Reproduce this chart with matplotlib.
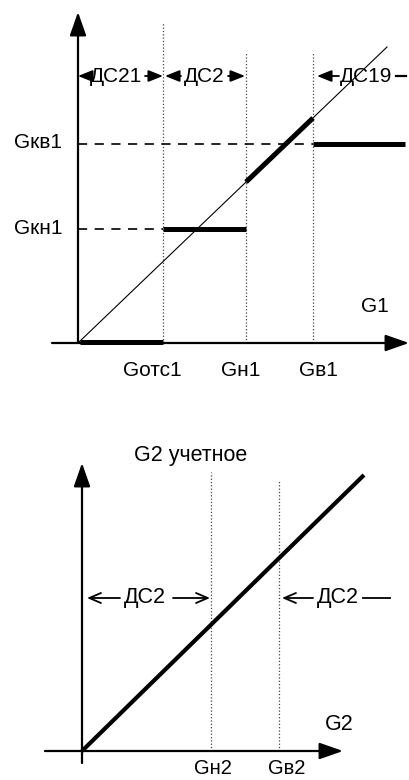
import matplotlib
matplotlib.use("Agg")
import matplotlib.pyplot as plt

plt.rcParams['font.family'] = ['Liberation Sans', 'DejaVu Sans']

# ---------------- data (top chart, G1) ----------------
g1_ticks = [85, 168, 235]                 # Gотс1, Gн1, Gв1
g1_tick_labels = ["Gотс1", "Gн1", "Gв1"]
g1_levels = [114, 199]                    # Gкн1, Gкв1
g1_level_labels = ["Gкн1", "Gкв1"]
g1_vline_tops = [320, 290, 290]
g1_diag_x = [0, 309]
g1_diag_y = [0, 296]
# thick response segments (x pairs, y pairs)
g1_seg_x = [[2, 85], [85, 168], [168, 235], [235, 327]]
g1_seg_y = [[1, 1], [114, 114], [161, 225], [199, 199]]
g1_zones = ["ДС21", "ДС2", "ДС19"]

# ---------------- data (bottom chart, G2) ----------------
g2_ticks = [129, 197]                     # Gн2, Gв2
g2_tick_labels = ["Gн2", "Gв2"]
g2_vline_tops = [279, 271]
g2_line_x = [0, 282]
g2_line_y = [0, 276]
g2_zones = ["ДС2", "ДС2"]

W, H = 409, 780
fig = plt.figure(figsize=(W / 100, H / 100), dpi=100)
fig.patch.set_facecolor('white')

# ================= TOP CHART =================
ax = fig.add_axes([0, 0.5, 1, 0.5])
ax.set_xlim(-78, 331)
ax.set_ylim(-47, 343)
ax.axis('off')

axis_arrow = dict(arrowstyle='-|>,head_length=0.8,head_width=0.28', mutation_scale=18,
                  color='black', lw=1.6, shrinkA=0, shrinkB=0)
ax.annotate('', xy=(0, 331), xytext=(0, 0), arrowprops=axis_arrow, annotation_clip=False)
ax.annotate('', xy=(331, 0), xytext=(-26, 0), arrowprops=axis_arrow, annotation_clip=False)

# vertical dotted lines
for x, top in zip(g1_ticks, g1_vline_tops):
    ax.plot([x, x], [0, top], ls=':', lw=0.9, color='#444444')

# dashed level lines
ax.plot([0, g1_ticks[0]], [g1_levels[0]] * 2, ls=(0, (5.5, 4.5)), lw=1.2, color='black')
ax.plot([0, g1_ticks[2]], [g1_levels[1]] * 2, ls=(0, (5.5, 4.5)), lw=1.2, color='black')

# thin diagonal
ax.plot(g1_diag_x, g1_diag_y, lw=0.8, color='black')

# thick segments
for xs, ys in zip(g1_seg_x, g1_seg_y):
    ax.plot(xs, ys, lw=3.6, color='black', solid_capstyle='butt', clip_on=False)

fs_top = 15
for cx, lab in zip([74, 163, 240], g1_tick_labels):
    ax.text(cx, -27, lab, ha='center', va='center', fontsize=fs_top)
for lev, lab in zip(g1_levels, g1_level_labels):
    ax.text(-40, lev + 1, lab, ha='center', va='center', fontsize=fs_top)
ax.text(297, 37, "G1", ha='center', va='center', fontsize=fs_top)

# zone annotations
zy = 267
small_arrow = dict(arrowstyle='-|>,head_length=0.8,head_width=0.32', mutation_scale=11,
                   color='black', lw=1.3, shrinkA=0, shrinkB=0)
ax.text(37.5, zy, g1_zones[0], ha='center', va='center', fontsize=fs_top)
ax.annotate('', xy=(0, zy), xytext=(10, zy), arrowprops=small_arrow)
ax.annotate('', xy=(85, zy), xytext=(67, zy), arrowprops=small_arrow)
ax.text(126, zy, g1_zones[1], ha='center', va='center', fontsize=fs_top)
ax.annotate('', xy=(87, zy), xytext=(103, zy), arrowprops=small_arrow)
ax.annotate('', xy=(167, zy), xytext=(150, zy), arrowprops=small_arrow)
ax.text(288, zy, g1_zones[2], ha='center', va='center', fontsize=fs_top)
ax.annotate('', xy=(239, zy), xytext=(261, zy), arrowprops=small_arrow)
ax.plot([318, 328], [zy, zy], lw=1.6, color='black', clip_on=False)

# ================= BOTTOM CHART =================
bx = fig.add_axes([0, 0, 1, 0.5])
bx.set_xlim(-82, 327)
bx.set_ylim(-29, 361)
bx.axis('off')

bx.annotate('', xy=(0, 288), xytext=(0, -12), arrowprops=axis_arrow, annotation_clip=False)
bx.annotate('', xy=(261, 0), xytext=(-37, 0), arrowprops=axis_arrow, annotation_clip=False)

for x, top in zip(g2_ticks, g2_vline_tops):
    bx.plot([x, x], [0, top], ls=':', lw=0.9, color='#444444')

bx.plot(g2_line_x, g2_line_y, lw=3.0, color='black', solid_capstyle='butt')

fs_bot = 15.5
bx.text(109, 295, "G2 учетное", ha='center', va='center', fontsize=fs_bot)
bx.text(257, 26, "G2", ha='center', va='center', fontsize=fs_bot)
for cx, lab in zip([131, 205], g2_tick_labels):
    bx.text(cx, -17, lab, ha='center', va='center', fontsize=14.5)

zy2 = 153
open_arrow = dict(arrowstyle='->,head_length=0.7,head_width=0.3', mutation_scale=12,
                  color='black', lw=1.3, shrinkA=0, shrinkB=0)
bx.text(63, zy2, g2_zones[0], ha='center', va='center', fontsize=fs_bot)
bx.annotate('', xy=(5, zy2), xytext=(38, zy2), arrowprops=open_arrow)
bx.annotate('', xy=(128, zy2), xytext=(91, zy2), arrowprops=open_arrow)
bx.text(256, zy2, g2_zones[1], ha='center', va='center', fontsize=fs_bot)
bx.annotate('', xy=(200, zy2), xytext=(231, zy2), arrowprops=open_arrow)
bx.plot([281, 308], [zy2, zy2], lw=1.3, color='black')

fig.savefig("out.png", dpi=100, facecolor='white')
